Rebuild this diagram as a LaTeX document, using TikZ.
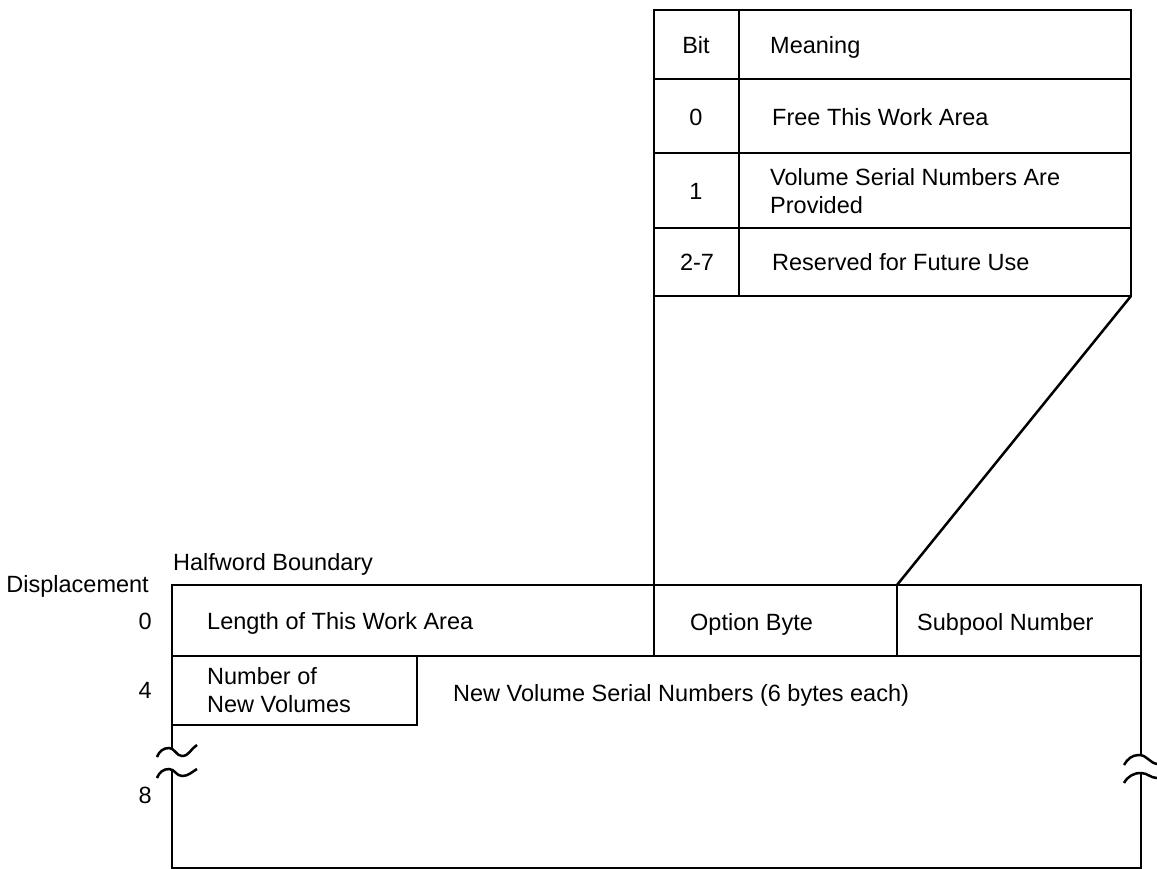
\documentclass[tikz,border=0pt]{standalone}
\usepackage{fontspec}
\setmainfont{Liberation Sans}
\begin{document}
\begin{tikzpicture}[x=1pt,y=-1pt,
  rule/.style={line width=2.5pt},
  lbl/.style={inner sep=0pt, font=\fontsize{23.5}{28}\selectfont},
  lbl2/.style={lbl, align=left}]
\useasboundingbox (0,0) rectangle (1157,869);

% ---------- option byte table ----------
\coordinate (tTL) at (654,10);
\coordinate (tBR) at (1131,296);
\coordinate (tBL) at (654,296);
\draw[rule] (tTL) rectangle (tBR);
\foreach \yy in {79,153,228} \draw[rule] (654,\yy) -- (1131,\yy);
\draw[rule] (739,10) -- (739,296);

\node[lbl, anchor=base] (bit) at (696,53.5) {Bit};
\node[lbl, anchor=base west] (meaning) at (770,53.5) {Meaning};
\node[lbl, anchor=base] (b0) at (696,125.5) {0};
\node[lbl, anchor=base west] (m0) at (772,125.5) {Free This Work Area};
\node[lbl, anchor=base] (b1) at (696,199.5) {1};
\node[lbl2, anchor=west] (m1) at (770,191) {Volume Serial Numbers Are\\Provided};
\node[lbl, anchor=base] (b27) at (697,271) {2-7};
\node[lbl, anchor=base west] (m27) at (772,271) {Reserved for Future Use};

% ---------- work area ----------
\coordinate (optTL) at (654,585);
\coordinate (subTL) at (897,585);
\draw[rule] (172,585) rectangle (1141,656);
\draw[rule] (optTL) -- (654,656);
\draw[rule] (subTL) -- (897,656);
\draw[rule] (172,656) rectangle (417,725);

% connectors from table to option byte
\draw[rule] (tBL) -- (optTL);
\draw[rule] (tBR) -- (subTL);

% left side with break
\draw[rule] (172,656) -- (172,748);
\draw[rule] (157,757) to[out=70,in=180] (169,748) to[out=0,in=180] (182,756) to[out=0,in=210] (197,745);
\draw[rule] (157,778) to[out=70,in=180] (169,769) to[out=0,in=180] (182,776) to[out=0,in=210] (197,769);
\draw[rule] (172,770) -- (172,868) -- (1141,868) -- (1141,773);
% right side with break
\draw[rule] (1141,656) -- (1141,755);
\draw[rule] (1124,765) to[out=60,in=180] (1139,755) to[out=0,in=170] (1157,764);
\draw[rule] (1124,783) to[out=60,in=180] (1141,773) to[out=0,in=180] (1157,778);

% labels
\node[lbl, anchor=base west] (half) at (173,570) {Halfword Boundary};
\node[lbl, anchor=base east] (disp) at (149,592) {Displacement};
\node[lbl, anchor=base east] (d0) at (152,629.5) {0};
\node[lbl, anchor=base east] (d4) at (152,698) {4};
\node[lbl, anchor=base east] (d8) at (152,803) {8};
\node[lbl, anchor=base west] (len) at (207,629.5) {Length of This Work Area};
\node[lbl, anchor=base west] (opt) at (690,630) {Option Byte};
\node[lbl, anchor=base west] (sub) at (917,630) {Subpool Number};
\node[lbl2, anchor=west] (nnv) at (207,690) {Number of\\New Volumes};
\node[lbl, anchor=base west] (vsn) at (453,701) {New Volume Serial Numbers (6 bytes each)};
\end{tikzpicture}
\end{document}
